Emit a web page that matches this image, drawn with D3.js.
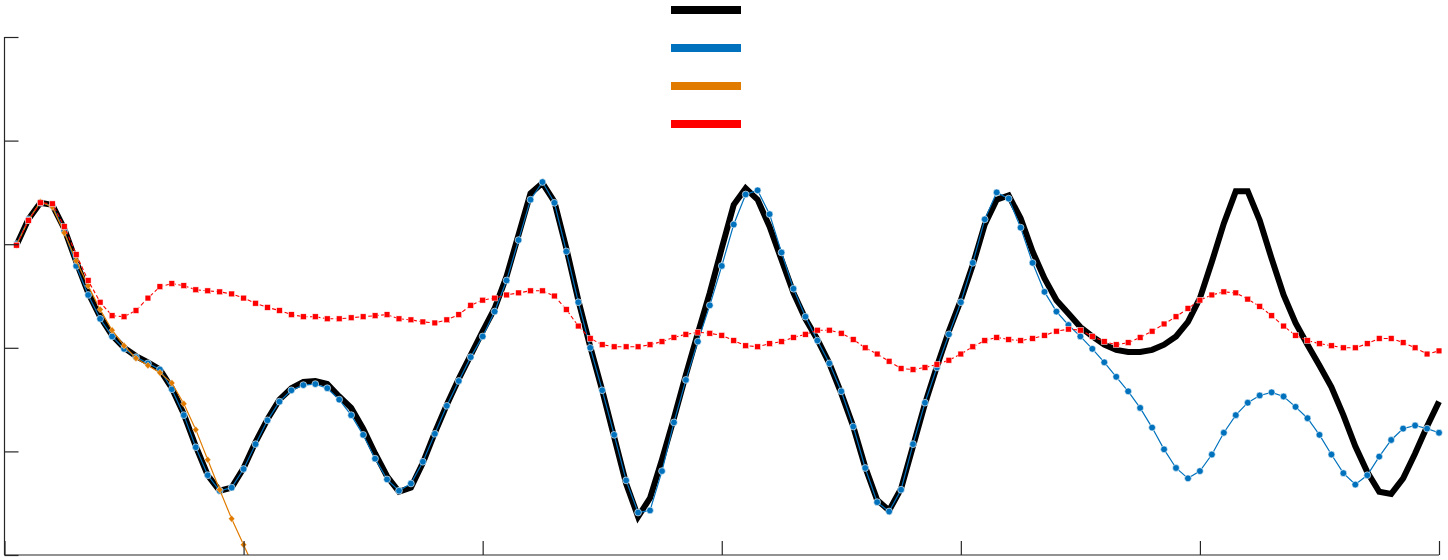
<!DOCTYPE html>
<html>
<head>
<meta charset="utf-8">
<script src="https://cdn.jsdelivr.net/npm/d3@7"></script>
<style>
  html, body { margin: 0; padding: 0; background: #fff; }
  svg { display: block; }
</style>
</head>
<body>
<div id="root"></div>
<script>
// sample step along x (samples at dt, 2dt, ... 6)
var dt = 0.05;

var xTicks = [0, 1, 2, 3, 4, 5, 6];
var yTicks = [-3, -2, -1, 0, 1, 2];

var black = [
  -0.01, 0.24, 0.40, 0.38, 0.15, -0.17, -0.47, -0.70, -0.88, -1.00,
  -1.08, -1.14, -1.21, -1.39, -1.64, -1.95, -2.23, -2.38, -2.35, -2.16,
  -1.91, -1.69, -1.50, -1.39, -1.33, -1.32, -1.35, -1.47, -1.58, -1.78,
  -2.02, -2.24, -2.39, -2.35, -2.11, -1.82, -1.55, -1.30, -1.07, -0.84,
  -0.62, -0.31, 0.09, 0.49, 0.59, 0.41, -0.04, -0.54, -0.99, -1.41,
  -1.86, -2.31, -2.63, -2.45, -2.08, -1.68, -1.26, -0.86, -0.47, -0.04,
  0.38, 0.54, 0.43, 0.17, -0.15, -0.47, -0.72, -0.92, -1.15, -1.44,
  -1.76, -2.15, -2.47, -2.57, -2.36, -1.95, -1.54, -1.18, -0.84, -0.54,
  -0.20, 0.19, 0.43, 0.47, 0.25, -0.07, -0.33, -0.54, -0.67, -0.80,
  -0.89, -0.97, -1.02, -1.04, -1.04, -1.02, -0.97, -0.89, -0.75, -0.52,
  -0.17, 0.20, 0.51, 0.51, 0.23, -0.14, -0.49, -0.76, -0.97, -1.17,
  -1.38, -1.65, -1.95, -2.20, -2.39, -2.41, -2.26, -2.02, -1.76, -1.52
];

var blue = [
  0.00, 0.24, 0.40, 0.37, 0.13, -0.21, -0.49, -0.72, -0.89, -1.01,
  -1.09, -1.15, -1.21, -1.40, -1.65, -1.96, -2.23, -2.38, -2.35, -2.17,
  -1.93, -1.70, -1.52, -1.41, -1.36, -1.35, -1.39, -1.50, -1.65, -1.84,
  -2.07, -2.27, -2.38, -2.31, -2.10, -1.83, -1.56, -1.32, -1.09, -0.89,
  -0.65, -0.35, 0.04, 0.43, 0.60, 0.40, -0.07, -0.56, -1.00, -1.41,
  -1.84, -2.28, -2.59, -2.57, -2.19, -1.72, -1.31, -0.94, -0.59, -0.21,
  0.19, 0.48, 0.52, 0.29, -0.08, -0.43, -0.70, -0.93, -1.15, -1.42,
  -1.76, -2.16, -2.49, -2.58, -2.37, -1.93, -1.53, -1.19, -0.87, -0.56,
  -0.18, 0.24, 0.50, 0.44, 0.16, -0.18, -0.46, -0.65, -0.78, -0.89,
  -1.01, -1.14, -1.28, -1.42, -1.58, -1.77, -1.98, -2.16, -2.26, -2.19,
  -2.03, -1.82, -1.65, -1.53, -1.46, -1.43, -1.47, -1.57, -1.68, -1.84,
  -2.03, -2.21, -2.32, -2.23, -2.05, -1.89, -1.78, -1.75, -1.78, -1.82
];

var orange = [
  -0.01, 0.23, 0.41, 0.36, 0.11, -0.16, -0.40, -0.63, -0.83, -0.98,
  -1.10, -1.17, -1.24, -1.34, -1.54, -1.79, -2.08, -2.37, -2.65, -2.90,
  -3.16
];

var red = [
  -0.01, 0.23, 0.40, 0.39, 0.17, -0.10, -0.35, -0.56, -0.69, -0.70,
  -0.64, -0.52, -0.41, -0.38, -0.40, -0.44, -0.45, -0.46, -0.48, -0.52,
  -0.57, -0.61, -0.64, -0.68, -0.70, -0.70, -0.72, -0.72, -0.71, -0.70,
  -0.69, -0.68, -0.72, -0.73, -0.75, -0.76, -0.73, -0.68, -0.59, -0.54,
  -0.52, -0.49, -0.47, -0.45, -0.45, -0.50, -0.63, -0.79, -0.91, -0.97,
  -0.99, -0.99, -0.99, -0.97, -0.94, -0.90, -0.87, -0.85, -0.86, -0.88,
  -0.93, -0.98, -0.99, -0.96, -0.94, -0.90, -0.87, -0.83, -0.83, -0.86,
  -0.92, -1.00, -1.06, -1.13, -1.20, -1.21, -1.19, -1.16, -1.12, -1.06,
  -0.99, -0.93, -0.90, -0.92, -0.93, -0.91, -0.88, -0.84, -0.82, -0.83,
  -0.89, -0.94, -0.97, -0.95, -0.90, -0.84, -0.77, -0.70, -0.62, -0.54,
  -0.49, -0.46, -0.47, -0.53, -0.60, -0.69, -0.79, -0.88, -0.93, -0.96,
  -0.98, -1.00, -1.00, -0.96, -0.91, -0.91, -0.95, -1.00, -1.06, -1.03
];

var legendColors = ['#000000', '#0072BD', '#E07B00', '#FF0000'];

var width = 1448;
var height = 560;
var axisColor = '#262626';

var x = d3.scaleLinear().domain([0, 6]).range([4.5, 1439]);
var y = d3.scaleLinear().domain([-3, 2]).range([555, 37]);

var svg = d3.select('#root')
  .append('svg')
    .attr('width', width)
    .attr('height', height);

svg.append('clipPath')
    .attr('id', 'plotclip')
  .append('rect')
    .attr('x', 4.5)
    .attr('y', 37)
    .attr('width', 1439 - 4.5 + 5)
    .attr('height', 555 - 37);

var toPoints = function(vals) {
  return vals.map(function(v, i) { return {t: (i + 1) * dt, v: v}; });
};

var line = d3.line()
  .x(function(d) { return x(d.t); })
  .y(function(d) { return y(d.v); });

var plot = svg.append('g').attr('clip-path', 'url(#plotclip)');

// black thick reference line
plot.append('path')
    .datum(toPoints(black))
    .attr('d', line)
    .attr('fill', 'none')
    .attr('stroke', '#000')
    .attr('stroke-width', 6)
    .attr('stroke-linejoin', 'miter');

// blue with circles
plot.append('path')
    .datum(toPoints(blue))
    .attr('d', line)
    .attr('fill', 'none')
    .attr('stroke', '#0072BD')
    .attr('stroke-width', 1.2);

plot.selectAll('circle.blue')
  .data(toPoints(blue))
  .enter()
  .append('circle')
    .attr('class', 'blue')
    .attr('cx', function(d) { return x(d.t); })
    .attr('cy', function(d) { return y(d.v); })
    .attr('r', 3.4)
    .attr('fill', '#0072BD')
    .attr('stroke', '#fff')
    .attr('stroke-width', 0.6);

// orange with diamonds
plot.append('path')
    .datum(toPoints(orange))
    .attr('d', line)
    .attr('fill', 'none')
    .attr('stroke', '#E07B00')
    .attr('stroke-width', 1.2);

var diamondPath = 'M0,-3.5L3.1,0L0,3.5L-3.1,0Z';
plot.selectAll('path.orange')
  .data(toPoints(orange))
  .enter()
  .append('path')
    .attr('class', 'orange')
    .attr('d', diamondPath)
    .attr('transform', function(d) { return 'translate(' + x(d.t) + ',' + y(d.v) + ')'; })
    .attr('fill', '#E07B00')
    .attr('stroke', '#fff')
    .attr('stroke-width', 0.4);

// red dashed with squares
plot.append('path')
    .datum(toPoints(red))
    .attr('d', line)
    .attr('fill', 'none')
    .attr('stroke', '#FF0000')
    .attr('stroke-width', 1.1)
    .attr('stroke-dasharray', '4,2.5');

plot.selectAll('rect.red')
  .data(toPoints(red))
  .enter()
  .append('rect')
    .attr('class', 'red')
    .attr('x', function(d) { return x(d.t) - 2.9; })
    .attr('y', function(d) { return y(d.v) - 2.9; })
    .attr('width', 5.8)
    .attr('height', 5.8)
    .attr('fill', '#FF0000')
    .attr('stroke', '#fff')
    .attr('stroke-width', 0.5);

// axes, ticks pointing inward, no labels
var yAxis = d3.axisLeft(y).tickValues(yTicks).tickSize(-14).tickFormat('');
var xAxis = d3.axisBottom(x).tickValues(xTicks).tickSize(-14).tickFormat('');

var gy = svg.append('g')
    .attr('transform', 'translate(4.5,0)')
    .call(yAxis);
var gx = svg.append('g')
    .attr('transform', 'translate(0,555)')
    .call(xAxis);

[gx, gy].forEach(function(g) {
  g.select('.domain')
    .attr('stroke', axisColor)
    .attr('stroke-width', 1.2)
    .attr('d', g === gy ? 'M0,37V555' : 'M4.5,0H1439');
  g.selectAll('.tick line')
    .attr('stroke', axisColor)
    .attr('stroke-width', 1.2);
});

// legend (icons only)
var legend = svg.append('g');
legend.selectAll('line')
  .data(legendColors)
  .enter()
  .append('line')
    .attr('x1', 671)
    .attr('x2', 741)
    .attr('y1', function(d, i) { return 10 + i * 38; })
    .attr('y2', function(d, i) { return 10 + i * 38; })
    .attr('stroke', function(d) { return d; })
    .attr('stroke-width', 8);
</script>
</body>
</html>
